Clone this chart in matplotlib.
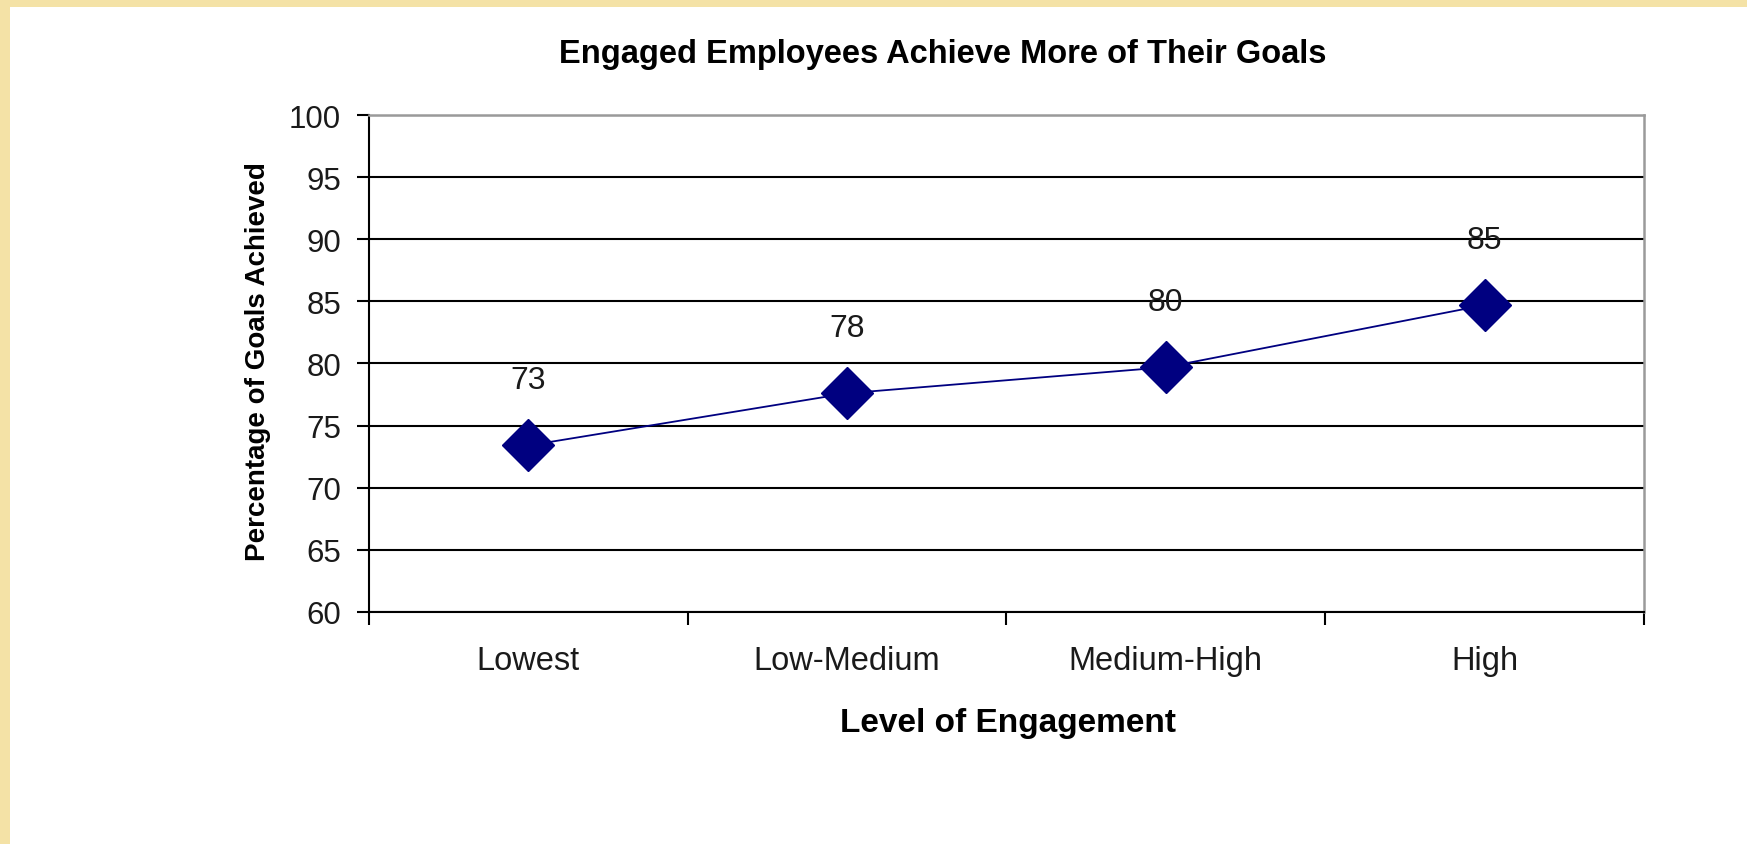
import matplotlib.pyplot as plt
from matplotlib.patches import Rectangle

# engagement levels and share of goals achieved (%)
levels = ['Lowest', 'Low-Medium', 'Medium-High', 'High']
goals_achieved = [73.4, 77.6, 79.7, 84.7]
y_ticks = [60, 65, 70, 75, 80, 85, 90, 95, 100]

plt.rcParams['font.family'] = ['Liberation Sans', 'DejaVu Sans']

fig = plt.figure(figsize=(17.47, 8.45), dpi=100)
fig.patch.set_facecolor('#F4E2A6')
# white slide panel over the yellow background
fig.patches.append(Rectangle((10 / 1747, 0), 1, (845 - 8) / 845,
                             transform=fig.transFigure, facecolor='white',
                             edgecolor='none', zorder=0))

ax = fig.add_axes([0.2112, 0.2746, 0.7298, 0.5881])
ax.set_zorder(2)
ax.set_facecolor('white')

x = [i + 0.5 for i in range(len(levels))]
ax.plot(x, goals_achieved, color='#000080', lw=1.3, marker='D', markersize=26,
        markerfacecolor='#000080', markeredgecolor='#000080', zorder=3,
        clip_on=False)

for xi, val in zip(x, goals_achieved):
    ax.annotate('{:.0f}'.format(val), (xi, val), xytext=(0, 47),
                textcoords='offset points', ha='center', va='center',
                fontsize=23, color='#1a1a1a')

ax.set_xlim(0, len(levels))
ax.set_ylim(60, 100)
ax.set_yticks(y_ticks)
ax.set_yticklabels([str(t) for t in y_ticks])
ax.set_xticks(range(len(levels) + 1))
ax.set_xticklabels([])
ax.set_xticks(x, minor=True)
ax.set_xticklabels(levels, minor=True)

ax.grid(axis='y', color='black', lw=1.5, zorder=1)
ax.set_axisbelow(True)

ax.tick_params(axis='y', which='major', length=9, width=1.5, pad=11,
               labelsize=22.5, colors='black', labelcolor='#1a1a1a')
ax.tick_params(axis='x', which='major', length=9, width=1.5, direction='out')
ax.tick_params(axis='x', which='minor', length=0, pad=24, labelsize=23.5,
               labelcolor='#1a1a1a')

for side in ['left', 'bottom']:
    ax.spines[side].set_color('black')
    ax.spines[side].set_linewidth(1.5)
for side in ['top', 'right']:
    ax.spines[side].set_color('#9a9a9a')
    ax.spines[side].set_linewidth(1.8)

fig.text(943 / 1747, 1 - 54 / 845, 'Engaged Employees Achieve More of Their Goals',
         ha='center', va='center', fontsize=23.5, fontweight='bold')
fig.text(1008 / 1747, 1 - 724 / 845, 'Level of Engagement',
         ha='center', va='center', fontsize=24, fontweight='bold')
fig.text(258 / 1747, 1 - 362 / 845, 'Percentage of Goals Achieved',
         ha='center', va='center', rotation=90, fontsize=20, fontweight='bold')

fig.savefig('out.png', dpi=100)
